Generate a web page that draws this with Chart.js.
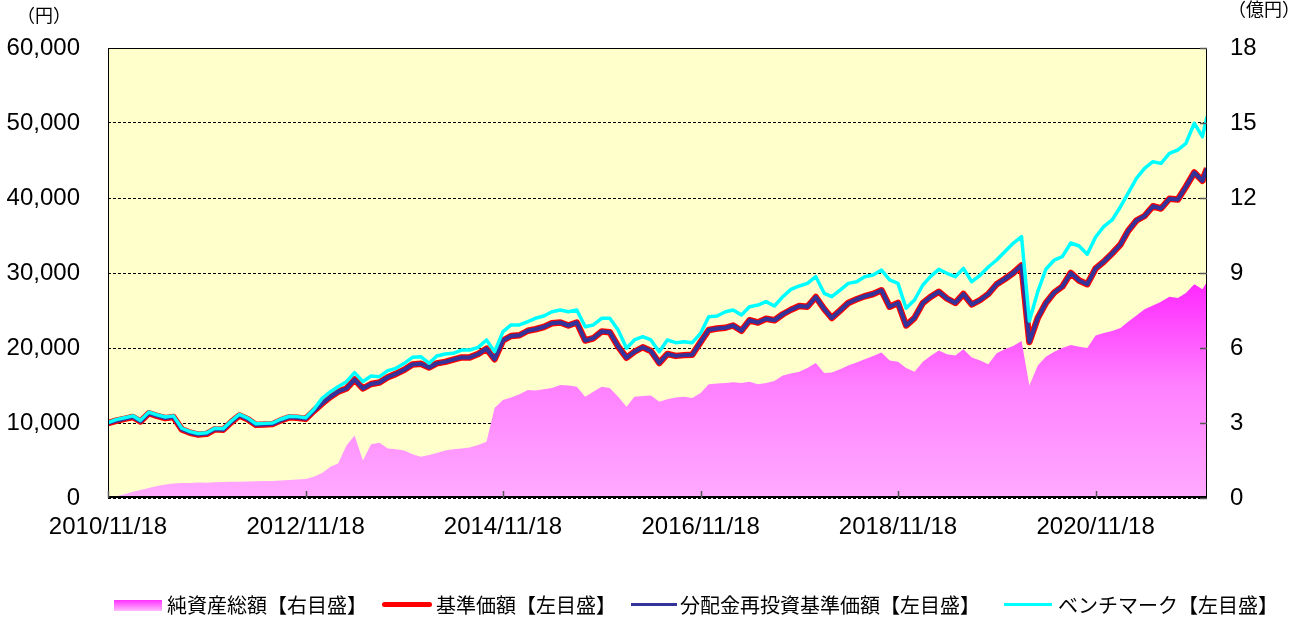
<!DOCTYPE html>
<html lang="ja">
<head>
<meta charset="utf-8">
<script src="https://cdn.jsdelivr.net/npm/chart.js@4.4.1/dist/chart.umd.min.js"></script>
<style>
  body { margin: 0; background: #fff; }
  #wrap { position: relative; width: 1305px; height: 619px; }
  #chart { display: block; }
  .lg { position: absolute; font: 20px "Noto Sans CJK JP", sans-serif; color: #000; line-height: 20px; white-space: nowrap; }
  .sym { position: absolute; }
</style>
</head>
<body>
<div id="wrap">
  <canvas id="chart" width="1305" height="619"></canvas>
  <div class="sym" style="left:114px;top:600px;width:48px;height:11px;background:linear-gradient(#ff30ff,#ffbbff);"></div>
  <div class="lg" style="left:167px;top:595px;">純資産総額【右目盛】</div>
  <div class="sym" style="left:382px;top:602px;width:50px;height:5px;border-radius:3px;background:#ff0000;"></div>
  <div class="lg" style="left:436px;top:595px;">基準価額【左目盛】</div>
  <div class="sym" style="left:631px;top:603px;width:46px;height:3px;background:#333399;"></div>
  <div class="lg" style="left:680px;top:595px;">分配金再投資基準価額【左目盛】</div>
  <div class="sym" style="left:1004px;top:603px;width:48px;height:3px;background:#00ffff;"></div>
  <div class="lg" style="left:1058px;top:595px;">ベンチマーク【左目盛】</div>
</div>
<script>
// 月次の日付（最後はデータ最終日）
const dates = [
  '2010/11/18','2010/12/18',
  '2011/01/18','2011/02/18','2011/03/18','2011/04/18','2011/05/18','2011/06/18','2011/07/18','2011/08/18','2011/09/18','2011/10/18','2011/11/18','2011/12/18',
  '2012/01/18','2012/02/18','2012/03/18','2012/04/18','2012/05/18','2012/06/18','2012/07/18','2012/08/18','2012/09/18','2012/10/18','2012/11/18','2012/12/18',
  '2013/01/18','2013/02/18','2013/03/18','2013/04/18','2013/05/18','2013/06/18','2013/07/18','2013/08/18','2013/09/18','2013/10/18','2013/11/18','2013/12/18',
  '2014/01/18','2014/02/18','2014/03/18','2014/04/18','2014/05/18','2014/06/18','2014/07/18','2014/08/18','2014/09/18','2014/10/18','2014/11/18','2014/12/18',
  '2015/01/18','2015/02/18','2015/03/18','2015/04/18','2015/05/18','2015/06/18','2015/07/18','2015/08/18','2015/09/18','2015/10/18','2015/11/18','2015/12/18',
  '2016/01/18','2016/02/18','2016/03/18','2016/04/18','2016/05/18','2016/06/18','2016/07/18','2016/08/18','2016/09/18','2016/10/18','2016/11/18','2016/12/18',
  '2017/01/18','2017/02/18','2017/03/18','2017/04/18','2017/05/18','2017/06/18','2017/07/18','2017/08/18','2017/09/18','2017/10/18','2017/11/18','2017/12/18',
  '2018/01/18','2018/02/18','2018/03/18','2018/04/18','2018/05/18','2018/06/18','2018/07/18','2018/08/18','2018/09/18','2018/10/18','2018/11/18','2018/12/18',
  '2019/01/18','2019/02/18','2019/03/18','2019/04/18','2019/05/18','2019/06/18','2019/07/18','2019/08/18','2019/09/18','2019/10/18','2019/11/18','2019/12/18',
  '2020/01/18','2020/02/18','2020/03/18','2020/04/18','2020/05/18','2020/06/18','2020/07/18','2020/08/18','2020/09/18','2020/10/18','2020/11/18','2020/12/18',
  '2021/01/18','2021/02/18','2021/03/18','2021/04/18','2021/05/18','2021/06/18','2021/07/18','2021/08/18','2021/09/18','2021/10/18','2021/11/18','2021/12/18',
  '2022/01/04'
];

// 純資産総額（億円・右目盛）
const netAssets = [
  0.00, 0.07,
  0.15, 0.25, 0.32, 0.40, 0.48, 0.54, 0.58, 0.60, 0.60, 0.62, 0.61, 0.63,
  0.64, 0.65, 0.65, 0.66, 0.67, 0.68, 0.68, 0.70, 0.72, 0.74, 0.76, 0.85,
  1.00, 1.25, 1.38, 2.10, 2.50, 1.50, 2.15, 2.21, 1.98, 1.95, 1.90, 1.75,
  1.65, 1.72, 1.80, 1.90, 1.95, 1.98, 2.02, 2.12, 2.25, 3.60, 3.92, 4.02,
  4.15, 4.32, 4.30, 4.35, 4.40, 4.52, 4.50, 4.45, 4.05, 4.25, 4.45, 4.40,
  4.05, 3.65, 4.05, 4.08, 4.10, 3.85, 3.95, 4.02, 4.05, 4.00, 4.20, 4.55,
  4.58, 4.60, 4.63, 4.60, 4.65, 4.55, 4.60, 4.68, 4.90, 4.98, 5.05, 5.20,
  5.40, 5.00, 5.02, 5.15, 5.30, 5.42, 5.55, 5.68, 5.82, 5.50, 5.45, 5.20,
  5.05, 5.45, 5.68, 5.90, 5.75, 5.70, 5.95, 5.62, 5.50, 5.35, 5.79, 5.95,
  6.08, 6.28, 4.50, 5.30, 5.65, 5.85, 6.00, 6.12, 6.05, 6.00, 6.50, 6.60,
  6.68, 6.80, 7.05, 7.30, 7.55, 7.70, 7.85, 8.05, 8.00, 8.20, 8.55, 8.35,
  8.65
];

// 基準価額（円）
const navBase = [
  10000, 10300,
  10550, 10800, 10200, 11300, 10950, 10650, 10800, 9150, 8700, 8450, 8550, 9150,
  9100, 10150, 11000, 10500, 9750, 9800, 9850, 10350, 10750, 10700, 10550, 11600,
  12600, 13500, 14170, 14600, 15800, 14600, 15200, 15400, 16100, 16550, 17100, 17800,
  17900, 17400, 17950, 18150, 18450, 18750, 18750, 19200, 19900, 18500, 21000, 21600,
  21700, 22300, 22500, 22800, 23300, 23400, 23000, 23400, 21000, 21300, 22200, 22100,
  20200, 18700, 19500, 20100, 19600, 18000, 19200, 18950, 19050, 19100, 20800, 22400,
  22600, 22700, 23000, 22300, 23700, 23400, 23900, 23700, 24500, 25100, 25600, 25500,
  26800, 25200, 24000, 25000, 26000, 26500, 26900, 27200, 27700, 25500, 26000, 23000,
  24000, 26000, 26800, 27500, 26600, 26000, 27200, 25800, 26400, 27200, 28500, 29200,
  30000, 31000, 20800, 24000, 26000, 27400, 28200, 30000, 29000, 28500, 30600, 31500,
  32600, 33800, 35600, 37000, 37600, 38900, 38600, 39900, 39800, 41500, 43400, 42300,
  43960
];

// 分配金再投資基準価額（円）
const navReinvest = [
  10000, 10300,
  10550, 10800, 10200, 11300, 10950, 10650, 10800, 9150, 8700, 8450, 8550, 9150,
  9100, 10150, 11000, 10500, 9750, 9800, 9850, 10350, 10750, 10700, 10550, 11600,
  12600, 13500, 14170, 14600, 15800, 14600, 15200, 15400, 16100, 16550, 17100, 17800,
  17900, 17400, 17950, 18150, 18450, 18750, 18750, 19200, 19900, 18500, 21000, 21600,
  21700, 22300, 22500, 22800, 23300, 23400, 23000, 23400, 21000, 21300, 22200, 22100,
  20200, 18700, 19500, 20100, 19600, 18000, 19200, 18950, 19050, 19100, 20800, 22400,
  22600, 22700, 23000, 22300, 23700, 23400, 23900, 23700, 24500, 25100, 25600, 25500,
  26800, 25200, 24000, 25000, 26000, 26500, 26900, 27200, 27700, 25500, 26000, 23000,
  24000, 26000, 26800, 27500, 26600, 26000, 27200, 25800, 26400, 27200, 28500, 29200,
  30000, 31000, 20800, 24000, 26000, 27400, 28200, 30000, 29000, 28500, 30600, 31500,
  32600, 33800, 35600, 37000, 37600, 38900, 38600, 39900, 39800, 41500, 43400, 42300,
  43960
];

// ベンチマーク（円）
const benchmark = [
  10050, 10450,
  10700, 10950, 10350, 11450, 11100, 10800, 10950, 9300, 8850, 8600, 8700, 9300,
  9250, 10300, 11150, 10650, 9900, 9950, 10000, 10500, 10900, 10850, 10700, 11800,
  13290, 14170, 14840, 15510, 16710, 15510, 16270, 16180, 16980, 17290, 17960, 18760,
  18840, 17960, 18930, 19200, 19290, 19730, 19730, 20090, 21070, 19510, 22180, 23070,
  23070, 23510, 23960, 24270, 24840, 25070, 24840, 25070, 22840, 23070, 23960, 23960,
  22400, 19960, 21070, 21510, 21070, 19500, 21070, 20710, 20840, 20710, 21960, 24180,
  24270, 24840, 25070, 24400, 25510, 25730, 26180, 25600, 26840, 27820, 28270, 28620,
  29510, 27290, 26840, 27730, 28620, 28840, 29510, 29730, 30400, 29070, 28620, 25300,
  26400, 28400, 29510, 30490, 29960, 29510, 30620, 28840, 29700, 30800, 31730, 32840,
  33960, 34840, 23600, 27510, 30500, 31730, 32180, 34000, 33600, 32500, 34800, 36180,
  37070, 38840, 40620, 42620, 43960, 44840, 44620, 45960, 46400, 47290, 49960, 48180,
  50840
];

const tickLabels = ['2010/11/18', '2012/11/18', '2014/11/18', '2016/11/18', '2018/11/18', '2020/11/18'];

// 日付 → 起点からの日数
function toDay(s) {
    const p = s.split('/').map(Number);
    const b = dates[0].split('/').map(Number);
    return (Date.UTC(p[0], p[1] - 1, p[2]) - Date.UTC(b[0], b[1] - 1, b[2])) / 86400000;
}
const pts = vals => vals.map((v, i) => ({ x: toDay(dates[i]), y: v }));

const tickFont = { family: '"Liberation Sans", Arial, sans-serif', size: 24 };

// 背景・枠・目盛線・単位
const framePlugin = {
    id: 'frame',
    beforeDraw(chart) {
        const { ctx, chartArea: a } = chart;
        ctx.save();
        ctx.fillStyle = '#ffffcc';
        ctx.fillRect(a.left, a.top, a.right - a.left, a.bottom - a.top);
        ctx.restore();
    },
    afterDraw(chart) {
        const { ctx, chartArea: a, scales } = chart;
        ctx.save();
        ctx.strokeStyle = '#000';
        ctx.lineWidth = 1;
        ctx.strokeRect(a.left + 0.5, a.top + 0.5, a.right - a.left - 1, a.bottom - a.top - 1);
        ctx.lineWidth = 2;
        ctx.beginPath();
        ctx.moveTo(a.left, a.bottom - 1);
        ctx.lineTo(a.right, a.bottom - 1);
        ctx.stroke();

        ctx.strokeStyle = '#555';
        ctx.lineWidth = 1.5;
        scales.x.ticks.forEach(t => {
            const px = Math.round(scales.x.getPixelForValue(t.value)) + 0.5;
            ctx.beginPath();
            ctx.moveTo(px, a.bottom);
            ctx.lineTo(px, a.bottom - 7);
            ctx.stroke();
        });
        scales.y2.ticks.forEach(t => {
            const py = Math.round(scales.y2.getPixelForValue(t.value)) + 0.5;
            ctx.beginPath();
            ctx.moveTo(a.right, py);
            ctx.lineTo(a.right - 7, py);
            ctx.stroke();
        });

        ctx.fillStyle = '#000';
        ctx.font = '18px "Noto Sans CJK JP"';
        ctx.textAlign = 'center';
        ctx.textBaseline = 'middle';
        ctx.fillText('（円）', 44, 15);
        ctx.fillText('（億円）', 1264, 9);
        ctx.restore();
    }
};

function areaGradient(context) {
    const { ctx, chartArea } = context.chart;
    if (!chartArea) return '#ff88ff';
    const g = ctx.createLinearGradient(0, chartArea.bottom, 0, chartArea.top);
    g.addColorStop(0, '#ffaaff');
    g.addColorStop(0.25, '#ff80ff');
    g.addColorStop(0.5, '#ff20ff');
    g.addColorStop(1, '#ff00ff');
    return g;
}

const ctx = document.getElementById('chart').getContext('2d');
new Chart(ctx, {
    type: 'line',
    data: {
        datasets: [
            { label: 'ベンチマーク【左目盛】', data: pts(benchmark), yAxisID: 'y', borderColor: '#00ffff', borderWidth: 3.5, order: 0 },
            { label: '分配金再投資基準価額【左目盛】', data: pts(navReinvest), yAxisID: 'y', borderColor: '#333399', borderWidth: 4, order: 1 },
            { label: '基準価額【左目盛】', data: pts(navBase), yAxisID: 'y', borderColor: '#ff0000', borderWidth: 6.5, order: 2 },
            { label: '純資産総額【右目盛】', data: pts(netAssets), yAxisID: 'y2', borderWidth: 0, backgroundColor: areaGradient, fill: 'origin', order: 3 }
        ]
    },
    options: {
        responsive: false,
        animation: false,
        layout: { padding: { top: 48, left: 0, right: 0, bottom: 0 } },
        elements: { point: { radius: 0 }, line: { tension: 0, borderJoinStyle: 'round' } },
        plugins: { legend: { display: false }, tooltip: { enabled: false } },
        scales: {
            x: {
                type: 'linear',
                min: toDay(dates[0]),
                max: toDay(dates[dates.length - 1]),
                afterBuildTicks: axis => { axis.ticks = tickLabels.map(d => ({ value: toDay(d) })); },
                afterFit: axis => { axis.height = 121; },
                ticks: {
                    autoSkip: false, maxRotation: 0, padding: 15, color: '#000', font: tickFont,
                    callback: v => { const i = tickLabels.findIndex(d => toDay(d) === v); return i >= 0 ? tickLabels[i] : ''; }
                },
                grid: { display: false, drawTicks: false },
                border: { display: false }
            },
            y: {
                position: 'left',
                min: 0, max: 60000,
                afterFit: axis => { axis.width = 108; },
                ticks: { stepSize: 10000, padding: 28, color: '#000', font: tickFont, callback: v => v.toLocaleString('en-US') },
                grid: { color: '#000', lineWidth: 1, drawTicks: false, borderDash: [3, 2] },
                border: { display: false, dash: [3, 2] }
            },
            y2: {
                position: 'right',
                min: 0, max: 18,
                afterFit: axis => { axis.width = 98; },
                ticks: { stepSize: 3, padding: 23, color: '#000', font: tickFont },
                grid: { display: false, drawTicks: false },
                border: { display: false }
            }
        }
    },
    plugins: [framePlugin]
});
</script>
</body>
</html>
